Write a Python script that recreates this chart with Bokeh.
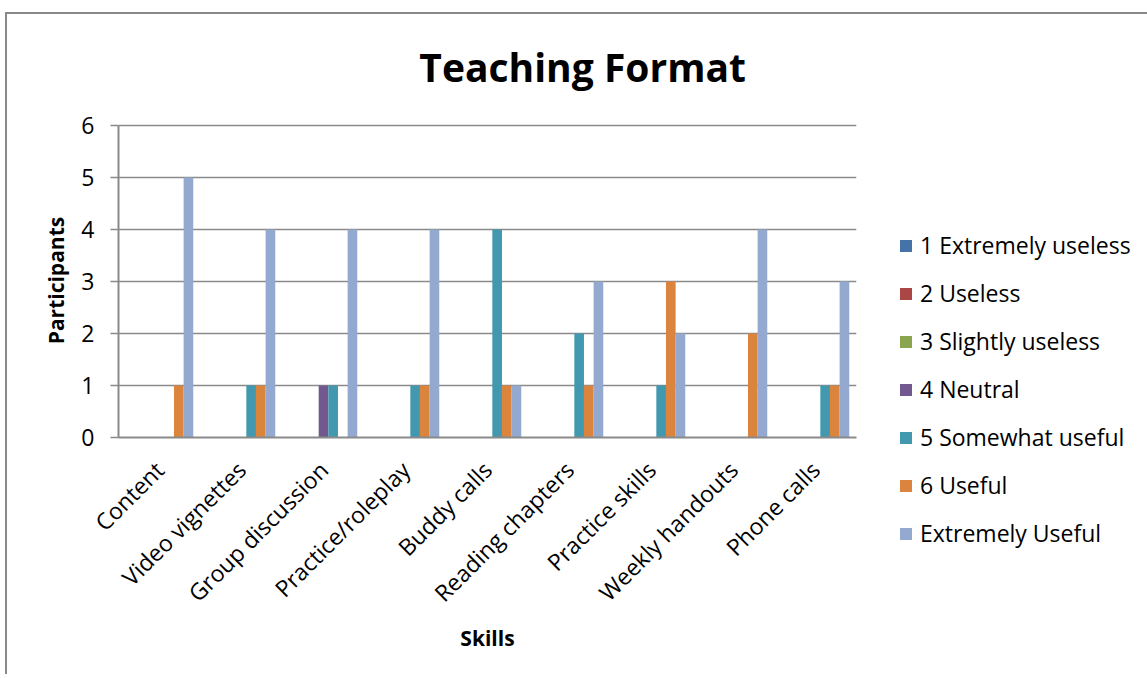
from math import pi
from bokeh.plotting import figure
from bokeh.models import FactorRange, Legend, LegendItem, Label, FixedTicker, ColumnDataSource
from bokeh.transform import dodge
from bokeh.embed import file_html
from bokeh.resources import INLINE

categories = ["Content", "Video vignettes", "Group discussion", "Practice/roleplay",
              "Buddy calls", "Reading chapters", "Practice skills", "Weekly handouts", "Phone calls"]
series_names = ["1 Extremely useless", "2 Useless", "3 Slightly useless", "4 Neutral",
                "5 Somewhat useful", "6 Useful", "Extremely Useful"]
extremely_useless = [0, 0, 0, 0, 0, 0, 0, 0, 0]
useless = [0, 0, 0, 0, 0, 0, 0, 0, 0]
slightly_useless = [0, 0, 0, 0, 0, 0, 0, 0, 0]
neutral = [0, 0, 1, 0, 0, 0, 0, 0, 0]
somewhat_useful = [0, 1, 1, 1, 4, 2, 1, 0, 1]
useful = [1, 1, 0, 1, 1, 1, 3, 2, 1]
extremely_useful = [5, 4, 4, 4, 1, 3, 2, 4, 3]
y_ticks = [0, 1, 2, 3, 4, 5, 6]

series_values = [extremely_useless, useless, slightly_useless, neutral,
                 somewhat_useful, useful, extremely_useful]
colors = ["#4572A7", "#AA4643", "#89A54E", "#71588F", "#4198AF", "#DB843D", "#93A9CF"]

FONT = "Open Sans"
GRAY = "#8a8a8a"
BORDER = "2px solid #898989"

# frame reaches up to the top so that the title sits inside it
FRAME_H = 423
Y_MAX = 6
Y_TOP = Y_MAX * FRAME_H / 312.0

p = figure(x_range=FactorRange(*categories, range_padding=0), y_range=(0, Y_TOP),
           frame_width=738, frame_height=FRAME_H, output_backend="svg", toolbar_location=None,
           min_border_left=111, min_border_right=0, min_border_top=0, min_border_bottom=237)
p.styles = {"border-left": BORDER, "border-top": BORDER,
            "margin-left": "5px", "margin-top": "12px"}
p.outline_line_color = None

src = ColumnDataSource(dict(cat=categories, **{f"s{i}": v for i, v in enumerate(series_values)}))
bw = 1 / 8.5
items = []
for i, (name, col) in enumerate(zip(series_names, colors)):
    r = p.vbar(x=dodge("cat", (i - 3) * bw, range=p.x_range), top=f"s{i}", width=bw,
               source=src, fill_color=col, line_color=None)
    items.append(LegendItem(label=name, renderers=[r]))

legend = Legend(items=items, location=(42, -112), padding=0, margin=0,
                border_line_color=None, background_fill_alpha=0,
                glyph_width=15, glyph_height=15, label_standoff=7, spacing=16, label_height=30,
                label_text_font=FONT, label_text_font_size="23px", label_text_color="#000000")
p.add_layout(legend, "right")

title = Label(x=5.66, y=7.135, text="Teaching Format", text_font=FONT, text_font_size="39px",
              text_font_style="bold", text_align="center", text_baseline="middle",
              text_color="#000000")
p.add_layout(title)

# axes
p.xgrid.grid_line_color = None
p.ygrid.grid_line_color = GRAY
p.ygrid.grid_line_width = 1.5
p.yaxis.ticker = FixedTicker(ticks=y_ticks)
p.yaxis.bounds = (0, Y_MAX)
p.yaxis.minor_tick_line_color = None
p.yaxis.major_tick_out = 8
p.yaxis.major_tick_in = 0
p.yaxis.major_tick_line_color = GRAY
p.yaxis.major_tick_line_width = 1.5
p.yaxis.axis_line_color = GRAY
p.yaxis.axis_line_width = 2
p.yaxis.major_label_standoff = 16
# non-breaking spaces keep the label centred on the 0-6 part of the axis
p.yaxis.axis_label = "Participants" + "\u00a0" * 20
p.yaxis.axis_label_standoff = 8

p.xaxis.major_tick_line_color = None
p.xaxis.axis_line_color = GRAY
p.xaxis.axis_line_width = 2
p.xaxis.major_label_orientation = pi / 4
p.xaxis.major_label_standoff = 22
p.xaxis.axis_label = "Skills"
p.xaxis.axis_label_standoff = 2

for ax in (p.xaxis[0], p.yaxis[0]):
    ax.major_label_text_font = FONT
    ax.major_label_text_font_size = "23px"
    ax.major_label_text_color = "#000000"
    ax.axis_label_text_font = FONT
    ax.axis_label_text_font_size = "21px"
    ax.axis_label_text_font_style = "bold"
    ax.axis_label_text_color = "#000000"

open("out.html", "w").write(file_html(p, INLINE))
